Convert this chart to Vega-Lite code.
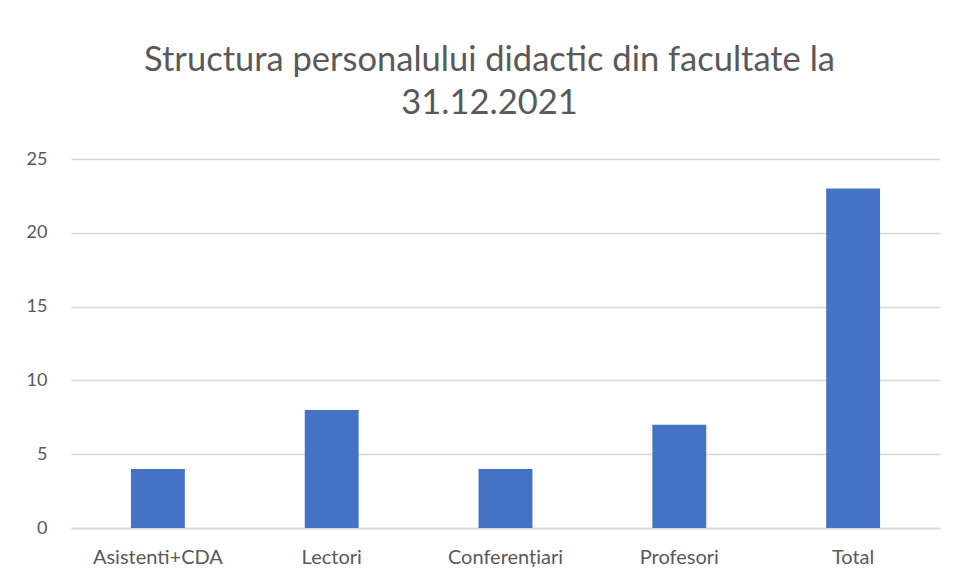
{
  "$schema": "https://vega.github.io/schema/vega-lite/v6.json",
  "autosize": "none",
  "width": 869,
  "height": 369,
  "padding": {"left": 71, "top": 159, "right": 15, "bottom": 56},
  "background": "white",
  "title": {
    "text": ["Structura personalului didactic din facultate la", "31.12.2021"],
    "anchor": "middle",
    "dx": -16,
    "font": "Lato",
    "fontSize": 34.5,
    "fontWeight": "normal",
    "color": "#595959",
    "lineHeight": 43,
    "offset": 29
  },
  "data": {
    "values": [
      {"categorie": "Asistenti+CDA", "numar": 4},
      {"categorie": "Lectori", "numar": 8},
      {"categorie": "Conferențiari", "numar": 4},
      {"categorie": "Profesori", "numar": 7},
      {"categorie": "Total", "numar": 23}
    ]
  },
  "mark": {"type": "bar", "color": "#4472C4"},
  "encoding": {
    "x": {
      "field": "categorie",
      "type": "nominal",
      "sort": null,
      "scale": {"paddingInner": 0.69, "paddingOuter": 0.345},
      "axis": {
        "title": null,
        "labelAngle": 0,
        "labelFont": "Lato",
        "labelFontSize": 20,
        "labelColor": "#595959",
        "labelPadding": 19,
        "ticks": false,
        "domainColor": "#d9d9d9",
        "domainWidth": 1.5
      }
    },
    "y": {
      "field": "numar",
      "type": "quantitative",
      "scale": {"domain": [0, 25]},
      "axis": {
        "title": null,
        "values": [0, 5, 10, 15, 20, 25],
        "labelFont": "Lato",
        "labelFontSize": 18,
        "labelColor": "#595959",
        "labelPadding": 24,
        "ticks": false,
        "domain": false,
        "gridColor": "#d9d9d9",
        "gridWidth": 1.5
      }
    }
  },
  "config": {"view": {"stroke": null}}
}
